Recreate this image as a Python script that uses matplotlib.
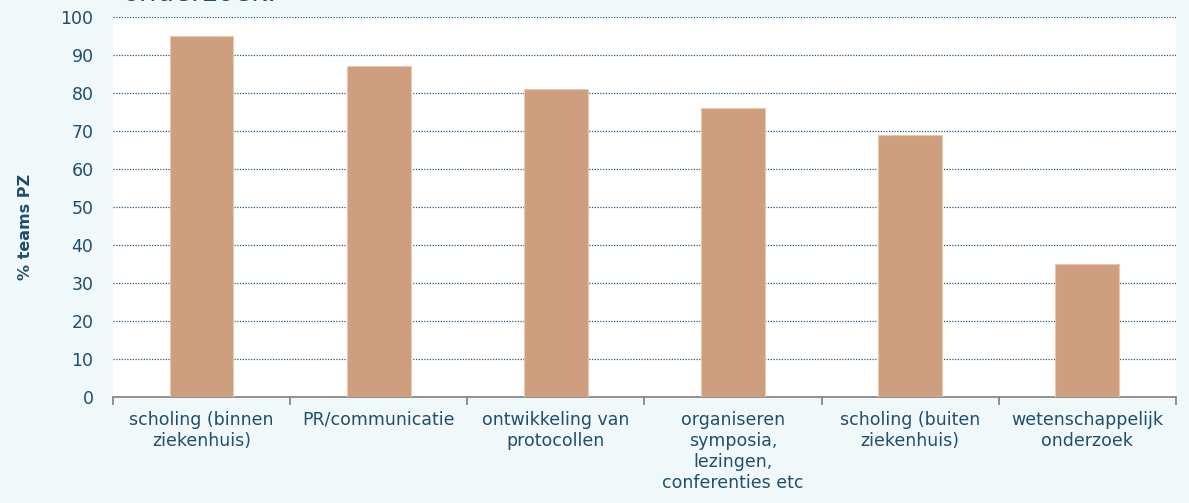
import matplotlib
matplotlib.use('Agg')
import matplotlib.pyplot as plt
import numpy as np

categories = ['scholing (binnen\nziekenhuis)', 'PR/communicatie', 'ontwikkeling van\nprotocollen',
              'organiseren\nsymposia,\nlezingen,\nconferenties etc', 'scholing (buiten\nziekenhuis)',
              'wetenschappelijk\nonderzoek']
values = [95, 87, 81, 76, 69, 35]
yticks = [0, 10, 20, 30, 40, 50, 60, 70, 80, 90, 100]

text_color = '#1f4e6e'
bg = '#f1f8fa'

plt.rcParams['font.family'] = ['DejaVu Sans']

fig = plt.figure(figsize=(11.89, 5.03), dpi=100, facecolor=bg)
ax = fig.add_axes([0.095, 0.211, 0.894, 0.755])
ax.set_facecolor('white')

x = np.arange(len(categories))
ax.bar(x, values, width=0.36, color='#cd9f7e', edgecolor='#e6c9b3', linewidth=0.8, zorder=3)

ax.set_xlim(-0.5, len(categories) - 0.5)
ax.set_ylim(0, 100)
ax.set_yticks(yticks)
ax.yaxis.grid(True, linestyle=(0, (1, 1.2)), color='#2a5878', linewidth=0.9, zorder=0)
ax.set_axisbelow(True)

ax.set_xticks(x)
ax.set_xticklabels(categories, fontsize=12.5, color=text_color, linespacing=1.22)
ax.tick_params(axis='x', length=0, pad=10)
ax.set_xticks(np.arange(len(categories) + 1) - 0.5, minor=True)
ax.tick_params(axis='x', which='minor', length=6, color='#7f7f7f', width=1.2)
ax.tick_params(axis='y', length=0, labelsize=12.5, labelcolor=text_color, pad=14)

for s in ['top', 'right', 'left']:
    ax.spines[s].set_visible(False)
ax.spines['bottom'].set_color('#7f7f7f')
ax.spines['bottom'].set_linewidth(1.2)

ax.set_ylabel('% teams PZ', fontsize=11.5, fontweight='bold', color=text_color, labelpad=22)
ax.yaxis.set_label_coords(-0.075, 0.447)

# title is cut off at the top of the image
fig.text(0.103, 0.998, 'onderzoek.', fontsize=20, color=text_color, va='baseline', ha='left')

fig.savefig('out.png', dpi=100, facecolor=bg)
